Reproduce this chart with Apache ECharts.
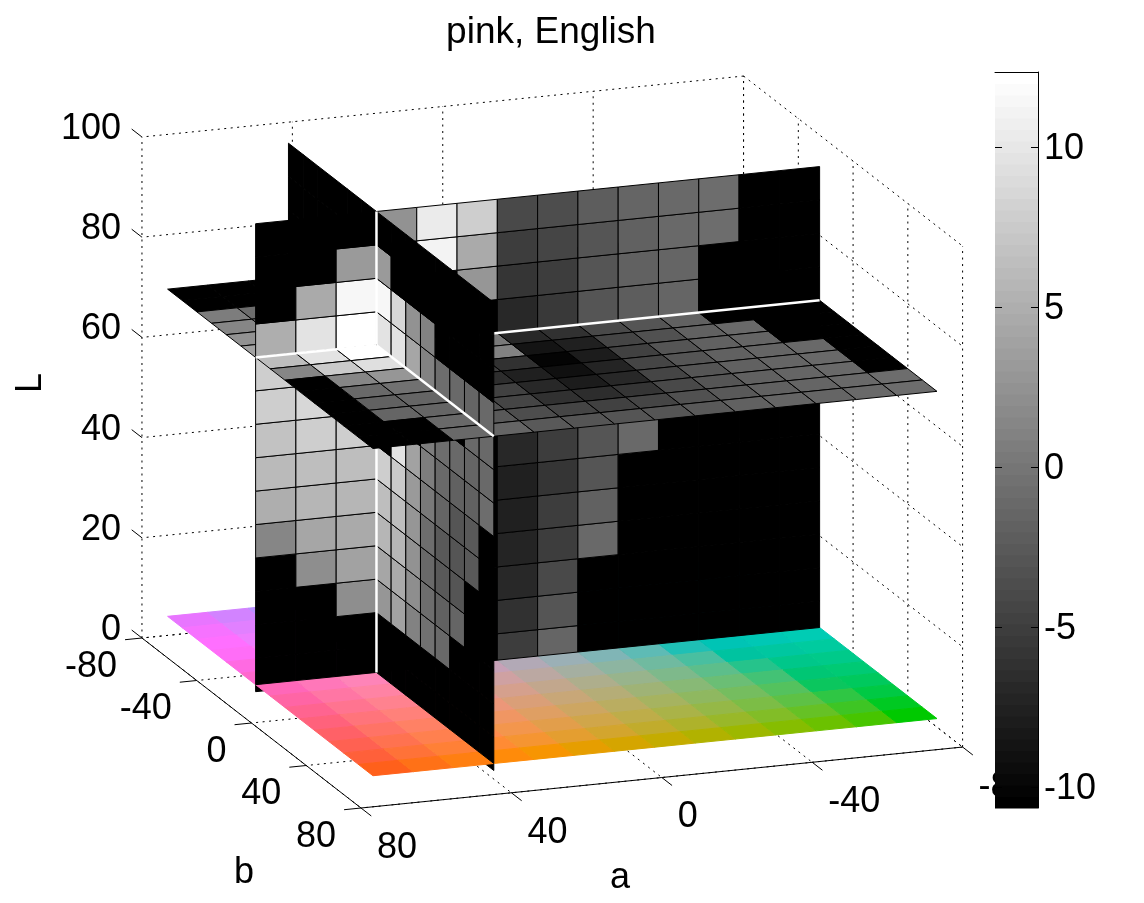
<!DOCTYPE html>
<html>
<head>
<meta charset="utf-8">
<title>pink, English</title>
<style>
html, body { margin: 0; padding: 0; background: #fff; }
#chart { width: 1144px; height: 903px; }
</style>
<script src="https://cdn.jsdelivr.net/npm/echarts@6/dist/echarts.min.js"></script>
</head>
<body>
<div id="chart"></div>
<script>
var n = null; // black cells

var aTicks = [80, 40, 0, -40, -80];
var bTicks = [-80, -40, 0, 40, 80];
var lTicks = [0, 20, 40, 60, 80, 100];
var barTicks = [-10, -5, 0, 5, 10];

// plane b = const, top row first, columns from a = +75 to a = -75
var wallB = [
	[n, n, n, 2.4, 10.5, 7.8, -3.9, -3.6, -2.3, -1.6, -1.3, -0.9, n, n],
	[n, n, 3.3, n, 11.2, 4.7, -5, -4.5, -3, -1.8, -1.3, -0.9, n, n],
	[n, 4.7, 11.4, n, n, 2.9, -5.7, -5, -3, -2, -1.6, n, n, n],
	[5.1, 9.6, 12.3, n, n, n, -6.8, -5.4, -3, -2.3, -1.6, n, n, n],
	[7.8, 8.7, 10.1, n, n, n, n, n, n, n, n, n, n, n],
	[7.8, 8.7, 9.2, n, n, n, n, n, n, n, n, n, n, n],
	[6.9, 7.8, 7.8, n, n, n, n, n, n, n, n, n, n, n],
	[6, 6.5, 6.5, n, n, n, -7, -5.2, -3, -1.2, n, n, n, n],
	[5.1, 5.6, 5.6, n, n, n, -7.5, -5.7, -3, n, n, n, n, n],
	[1.5, 4.2, 4.7, n, n, n, -7.6, -5.2, -2, n, n, n, n, n],
	[n, 2, 3.8, n, n, n, -7.2, -5, -1.2, n, n, n, n, n],
	[n, n, 2, n, n, n, -6.8, -3.9, n, n, n, n, n, n],
	[n, n, n, n, n, n, -6.1, -3, n, n, n, n, n, n],
	[n, n, n, n, n, n, -5.2, -1.6, n, n, n, n, n, n]
];

// plane a = const, top row first, columns from b = -75 to b = +75
var wallA = [
	[n, n, n, n, n, n, n, n, n, n, n, n, n, n],
	[n, n, n, n, n, n, 3.3, n, n, n, n, n, n, n],
	[n, n, n, n, n, n, 11.4, 8.7, 2.4, 1.1, n, n, n, n],
	[n, n, n, n, n, n, 9.6, 9.6, 4.2, 1.1, -0.7, -1.2, -1.6, -1.2],
	[n, n, n, n, n, n, n, n, n, n, n, n, -1.2, -1.2],
	[n, n, n, n, n, n, n, n, n, 0.6, -0.7, -1.2, -1.6, -1.2],
	[n, n, n, n, n, n, n, 9.6, 3.8, 0.6, -1.2, -2, -2, -0.7],
	[n, n, n, n, n, n, 7.8, 7.4, 3.3, 0.2, -1.6, -3, -2.5, n],
	[n, n, n, n, n, n, 6.5, 6.5, 2.9, -0.7, -2.5, -3, -2.5, n],
	[n, n, n, n, n, n, 5.6, 5.6, 2.4, -1.2, -2.5, -3, n, n],
	[n, n, n, n, n, n, 4.2, 4.7, 2, -0.7, -2, -1.6, n, n],
	[n, n, n, n, n, n, 2.9, 3.8, 1.1, -0.3, -1.2, n, n, n],
	[n, n, n, n, n, n, n, n, n, n, n, n, n, n],
	[n, n, n, n, n, n, n, n, n, n, n, n, n, n]
];

// plane L = const, rows from b = -75 to b = +75, columns from a = +75 to a = -75
var sliceL = [
	[n, n, n, n, n, n, n, n, n, n, n, n, n, n],
	[n, n, n, n, n, n, n, n, n, n, n, n, n, n],
	[0.6, -0.7, n, n, n, n, n, n, n, n, n, n, n, n],
	[1.5, 0.6, n, n, n, n, n, n, n, n, n, n, n, n],
	[2.4, 1.5, n, n, n, n, n, n, n, n, n, n, n, n],
	[3.8, 2.9, n, n, n, n, n, n, n, n, n, n, n, n],
	[6.5, 9.6, 12.2, 2.9, 1.1, 0.2, -7, -6.1, -3.9, -3, -2, n, n, n],
	[1.5, 7.4, 9.2, 1.1, -0.7, 1.1, -8.6, -7.5, -4.3, -3.4, -2, -1.2, n, n],
	[n, 1.5, 2.9, -2.5, -5.2, -6.1, -10.3, -7.9, -4.8, -3, -2, -1.6, n, n],
	[n, -1.2, -0.3, -4.3, -6.6, -7.5, -9, -7.2, -4.5, -3, -2, -1.6, -1.2, n],
	[n, -2, -1.6, -4.3, -4.8, -7, -7.9, -6.8, -4.3, -3, -2, -1.6, -1.2, n],
	[n, -1.6, -1.6, -3.4, -4.3, -6.1, -6.6, -5.7, -3.9, -3, -2, -1.6, -1.2, n],
	[n, n, -1.2, -2.5, -3.6, -4.3, -4.8, -4.5, -3.4, -2.5, -2, -1.6, -1.2, -0.7],
	[n, n, -1.2, -1.6, -2.5, -3, -3, -3, -2.5, -2, -1.6, -1.6, -1.2, -0.7]
];

var CELLS = 14, BAR_MIN = -10.66, BAR_MAX = 12.34;
var FONT = '"Liberation Sans", Arial, sans-serif';
var A0 = 3, B0 = 6, K0 = 10; // grid lines that the three planes sit on
var FLOOR_L = 5, L_BOTTOM = 3.6, L_TOP = 97, SLICE_LAB = 70.3, FLOOR_GAIN = 1.08;

function aEdge(i) { return 75 - i * 150 / CELLS; }
function bEdge(j) { return -75 + j * 150 / CELLS; }
function lEdge(k) { return L_BOTTOM + k * (L_TOP - L_BOTTOM) / CELLS; }

// fixed matlab style view, orthographic
function project(p) {
	var a = p[0], b = p[1], l = p[2];
	return [
		361 + (80 - a) * 3.76 + (b - 80) * 1.369,
		808 - (80 - a) * 0.381 + (b - 80) * 1.0625 - l * 5.01
	];
}

function grayOf(v) {
	if (v === null) return 'rgb(0,0,0)';
	var idx = Math.floor((v - BAR_MIN) / (BAR_MAX - BAR_MIN) * 64);
	idx = Math.max(0, Math.min(63, idx));
	var g = Math.round(idx / 63 * 255);
	return 'rgb(' + g + ',' + g + ',' + g + ')';
}

function labToRgb(L, a, b) {
	var fy = (L + 16) / 116, fx = fy + a / 500, fz = fy - b / 200;
	function inv(t) { return t > 6 / 29 ? t * t * t : 3 * 36 / 841 * (t - 4 / 29); }
	var X = 0.9505 * inv(fx), Y = inv(fy), Z = 1.089 * inv(fz);
	var rgb = [
		3.2406 * X - 1.5372 * Y - 0.4986 * Z,
		-0.9689 * X + 1.8758 * Y + 0.0415 * Z,
		0.0557 * X - 0.204 * Y + 1.057 * Z
	].map(function(c) {
		c = Math.max(0, Math.min(1, c));
		c = c <= 0.0031308 ? 12.92 * c : 1.055 * Math.pow(c, 1 / 2.4) - 0.055;
		return Math.round(c * 255);
	});
	return 'rgb(' + rgb.join(',') + ')';
}

function cellsOfB(cFrom, cTo, stub) {
	var out = [], b = bEdge(B0);
	for (var r = 0; r < CELLS; r++) {
		var row = wallB[CELLS - 1 - r];
		for (var c = cFrom; c < cTo; c++) {
			var lo = lEdge(r), hi = lEdge(r + 1);
			if (stub) { if (r > 0) continue; hi = FLOOR_L; }
			else if (r == 0) lo = FLOOR_L;
			out.push({ fill: grayOf(row[c]), stroke: '#000', pts: [
				[aEdge(c), b, lo], [aEdge(c + 1), b, lo], [aEdge(c + 1), b, hi], [aEdge(c), b, hi]
			] });
		}
	}
	return out;
}

function cellsOfA(stub) {
	var out = [], a = aEdge(A0);
	for (var r = 0; r < CELLS; r++) {
		var row = wallA[CELLS - 1 - r];
		for (var d = 0; d < CELLS; d++) {
			var lo = lEdge(r), hi = lEdge(r + 1);
			if (stub) { if (r > 0) continue; hi = FLOOR_L; }
			else if (r == 0) lo = FLOOR_L;
			out.push({ fill: grayOf(row[d]), stroke: '#000', pts: [
				[a, bEdge(d), lo], [a, bEdge(d + 1), lo], [a, bEdge(d + 1), hi], [a, bEdge(d), hi]
			] });
		}
	}
	return out;
}

function cellsOfSlice(cFrom, cTo, jFrom, jTo) {
	var out = [], l = lEdge(K0);
	for (var j = jFrom; j < jTo; j++) {
		for (var c = cFrom; c < cTo; c++) {
			out.push({ fill: grayOf(sliceL[j][c]), stroke: '#000', pts: [
				[aEdge(c), bEdge(j), l], [aEdge(c + 1), bEdge(j), l], [aEdge(c + 1), bEdge(j + 1), l], [aEdge(c), bEdge(j + 1), l]
			] });
		}
	}
	return out;
}

function floorCells() {
	var out = [];
	for (var j = 0; j < CELLS; j++) {
		for (var c = 0; c < CELLS; c++) {
			var col = labToRgb(SLICE_LAB, FLOOR_GAIN * (aEdge(c) + aEdge(c + 1)) / 2, FLOOR_GAIN * (bEdge(j) + bEdge(j + 1)) / 2);
			out.push({ fill: col, stroke: col, pts: [
				[aEdge(c), bEdge(j), FLOOR_L], [aEdge(c + 1), bEdge(j), FLOOR_L], [aEdge(c + 1), bEdge(j + 1), FLOOR_L], [aEdge(c), bEdge(j + 1), FLOOR_L]
			] });
		}
	}
	return out;
}

var zCounter = 2;

function polySeries(polys) {
	return {
		type: 'custom',
		xAxisIndex: 0,
		yAxisIndex: 0,
		silent: true,
		animation: false,
		clip: false,
		z: zCounter++,
		data: polys.map(function(p) { return project(p.pts[0]); }),
		renderItem: function(params, api) {
			var p = polys[params.dataIndex];
			return {
				type: 'polygon',
				shape: { points: p.pts.map(function(q) { return api.coord(project(q)); }) },
				style: { fill: p.fill, stroke: p.stroke, lineWidth: 1 }
			};
		}
	};
}

function lineSeries(segs, color, width, dash) {
	return {
		type: 'custom',
		xAxisIndex: 0,
		yAxisIndex: 0,
		silent: true,
		animation: false,
		clip: false,
		z: zCounter++,
		data: segs.map(function(s) { return project(s[0]); }),
		renderItem: function(params, api) {
			var s = segs[params.dataIndex], p = api.coord(project(s[0])), q = api.coord(project(s[1]));
			return {
				type: 'line',
				shape: { x1: p[0], y1: p[1], x2: q[0], y2: q[1] },
				style: { stroke: color, lineWidth: width, lineDash: dash || null, fill: null }
			};
		}
	};
}

function textSeries(items) {
	return {
		type: 'custom',
		xAxisIndex: 0,
		yAxisIndex: 0,
		silent: true,
		animation: false,
		clip: false,
		z: zCounter++,
		data: items.map(function(t) { return project(t.at); }),
		renderItem: function(params, api) {
			var t = items[params.dataIndex], p = api.coord(project(t.at));
			return {
				type: 'text',
				x: p[0] + t.dx,
				y: p[1] + t.dy,
				rotation: t.rot || 0,
				style: { text: t.text, fill: '#000', font: '36px ' + FONT, align: t.align, verticalAlign: 'middle' }
			};
		}
	};
}

// dotted box grid and the solid front axes
var dotted = [], solid = [];
aTicks.forEach(function(a) {
	dotted.push([[a, -80, 0], [a, 80, 0]]);
	dotted.push([[a, -80, 0], [a, -80, 100]]);
	solid.push([[a, 80, 0], [a, 87.5, 0]]);
});
bTicks.forEach(function(b) {
	dotted.push([[-80, b, 0], [80, b, 0]]);
	dotted.push([[-80, b, 0], [-80, b, 100]]);
	solid.push([[80, b, 0], [84.5, b, 0]]);
});
lTicks.forEach(function(l) {
	dotted.push([[-80, -80, l], [80, -80, l]]);
	dotted.push([[-80, -80, l], [-80, 80, l]]);
	solid.push([[80, -80, l], [80, -87.5, l]]);
});
solid.push([[80, -80, 0], [80, 80, 0]]);
solid.push([[80, 80, 0], [-80, 80, 0]]);

var tickLabels = [];
aTicks.forEach(function(a) {
	tickLabels.push({ at: [a, 80, 0], dx: 16, dy: 40, text: String(a), align: 'left' });
});
bTicks.forEach(function(b) {
	tickLabels.push({ at: [80, b, 0], dx: -25, dy: 29, text: String(b), align: 'right' });
});
lTicks.forEach(function(l) {
	tickLabels.push({ at: [80, -80, l], dx: -21, dy: -8, text: String(l), align: 'right' });
});
tickLabels.push({ at: [80, -80, 0], dx: -111, dy: -255, text: 'L', align: 'center', rot: Math.PI / 2 });
tickLabels.push({ at: [80, 80, 0], dx: -117, dy: 65, text: 'b', align: 'center' });
tickLabels.push({ at: [80, 80, 0], dx: 259, dy: 70, text: 'a', align: 'center' });

var aCut = aEdge(A0), bCut = bEdge(B0), lCut = lEdge(K0);
var white = 'rgb(255,255,255)';

var series = [
	lineSeries(dotted, '#000', 1, [2, 4.5]),
	lineSeries(solid, '#000', 1),
	textSeries(tickLabels),
	polySeries(cellsOfB(0, CELLS, true).concat(cellsOfA(true))),
	polySeries(floorCells()),
	// far side of the a plane
	polySeries(cellsOfSlice(A0, CELLS, 0, B0)),
	polySeries(cellsOfB(A0, CELLS, false)),
	polySeries(cellsOfSlice(A0, CELLS, B0, CELLS)),
	lineSeries([[[aCut, bCut, lCut], [aEdge(CELLS), bCut, lCut]]], white, 2.5),
	polySeries(cellsOfA(false)),
	lineSeries([[[aCut, bEdge(0), lCut], [aCut, bCut, lCut]]], white, 2.5),
	// near side of the a plane
	polySeries(cellsOfSlice(0, A0, 0, B0)),
	polySeries(cellsOfB(0, A0, false)),
	lineSeries([[[aCut, bCut, FLOOR_L], [aCut, bCut, lEdge(CELLS)]]], white, 2.5),
	polySeries(cellsOfSlice(0, A0, B0, CELLS)),
	lineSeries([[[aEdge(0), bCut, lCut], [aCut, bCut, lCut]]], white, 2.5),
	lineSeries([[[aCut, bCut, lCut], [aCut, bEdge(CELLS), lCut]]], white, 2.5)
];

// colorbar bands, on its own axes
var bands = [];
for (var i = 0; i < 64; i++) {
	bands.push([BAR_MIN + i * (BAR_MAX - BAR_MIN) / 64, BAR_MIN + (i + 1) * (BAR_MAX - BAR_MIN) / 64]);
}
series.push({
	type: 'custom',
	xAxisIndex: 1,
	yAxisIndex: 1,
	silent: true,
	animation: false,
	z: 50,
	data: bands.map(function(b) { return [0.5, b[0], b[1]]; }),
	renderItem: function(params, api) {
		var p = api.coord([0, api.value(2)]), q = api.coord([1, api.value(1)]);
		return {
			type: 'rect',
			shape: { x: p[0], y: p[1], width: q[0] - p[0], height: q[1] - p[1] + 0.5 },
			style: { fill: grayOf((api.value(1) + api.value(2)) / 2) }
		};
	},
	encode: { x: 0, y: 1 }
});

var LABEL_NUDGE = 0.06; // labels sit 2px under their ticks

var myChart = echarts.init(document.getElementById('chart'), null, { renderer: 'canvas' });
myChart.setOption({
	animation: false,
	backgroundColor: '#fff',
	title: {
		text: 'pink, English',
		left: 546,
		top: 9,
		textAlign: 'center',
		textStyle: { fontFamily: FONT, fontSize: 37, fontWeight: 'normal', color: '#000' }
	},
	grid: [
		{ left: 0, top: 0, width: 1144, height: 903 },
		{ left: 995, top: 72, width: 43, height: 736 }
	],
	xAxis: [
		{ type: 'value', gridIndex: 0, min: 0, max: 1144, show: false },
		{
			type: 'value', gridIndex: 1, min: 0, max: 1, position: 'top', z: 60,
			axisLine: { show: true, onZero: false, lineStyle: { color: '#000', width: 1 } },
			axisTick: { show: false }, axisLabel: { show: false }, splitLine: { show: false }
		}
	],
	yAxis: [
		{ type: 'value', gridIndex: 0, min: 0, max: 903, inverse: true, show: false },
		{
			type: 'value', gridIndex: 1, min: BAR_MIN, max: BAR_MAX, position: 'right', z: 60,
			axisLine: { show: true, onZero: false, lineStyle: { color: '#000', width: 1 } },
			axisTick: { show: true, inside: true, length: 7, customValues: barTicks, lineStyle: { color: '#000', width: 1 } },
			axisLabel: { show: false },
			splitLine: { show: false }
		},
		{
			type: 'value', gridIndex: 1, min: BAR_MIN, max: BAR_MAX, position: 'left', z: 60,
			axisLine: { show: false, onZero: false },
			axisTick: { show: true, inside: true, length: 7, customValues: barTicks, lineStyle: { color: '#000', width: 1 } },
			axisLabel: { show: false },
			splitLine: { show: false }
		},
		{
			type: 'value', gridIndex: 1, min: BAR_MIN + LABEL_NUDGE, max: BAR_MAX + LABEL_NUDGE, position: 'right', z: 60,
			axisLine: { show: false, onZero: false },
			axisTick: { show: false },
			axisLabel: { show: true, margin: 6, customValues: barTicks, fontFamily: FONT, fontSize: 36, color: '#000' },
			splitLine: { show: false }
		}
	],
	series: series
});
</script>
</body>
</html>
